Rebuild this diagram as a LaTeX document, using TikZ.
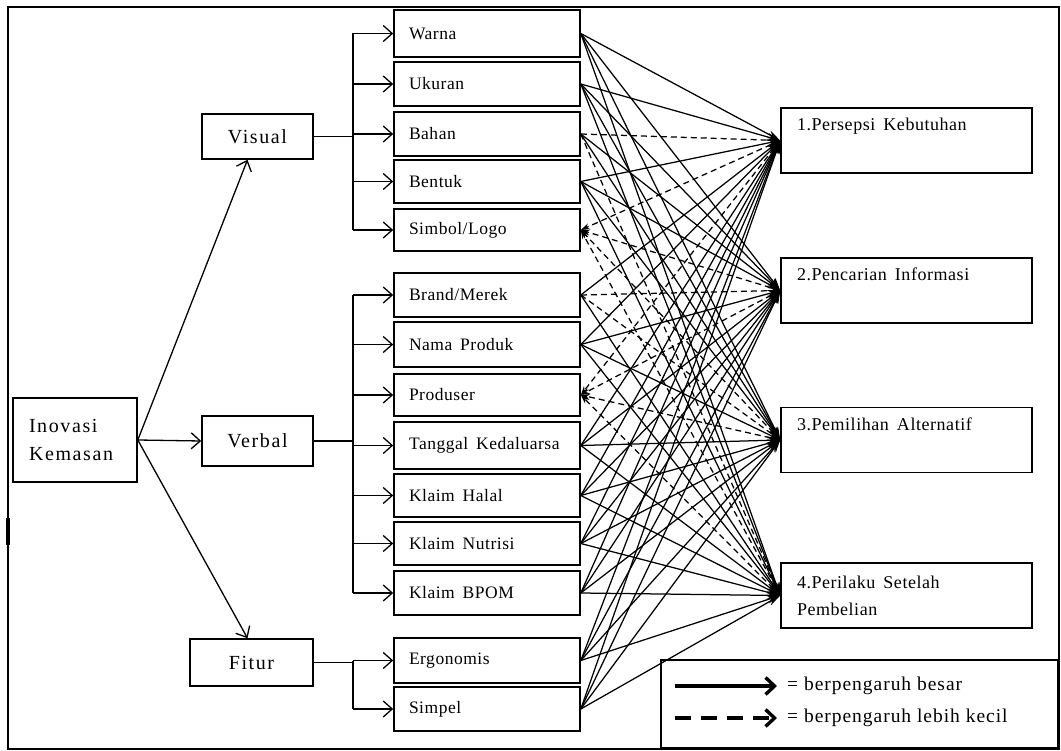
\documentclass[tikz,border=0pt]{standalone}
\usepackage{fontspec}
\setmainfont{Liberation Serif}
\newfontfamily\widefont[LetterSpace=8]{Liberation Serif}
\newfontfamily\midfont[LetterSpace=3]{Liberation Serif}
\newfontfamily\legfont[LetterSpace=5]{Liberation Serif}
\usetikzlibrary{arrows.meta}
\newcommand\wsp{\hspace{0.45em}}
\begin{document}
\begin{tikzpicture}[x=1pt,y=-1pt,
  mbox/.style={draw, line width=1.6pt, text width=156pt, inner xsep=15pt, inner ysep=0pt,
    align=left, minimum height=#1, font={\midfont\fontsize{17.5}{20}\selectfont}},
  rbox/.style={draw, line width=1.6pt, text width=219pt, inner xsep=16pt, inner ysep=0pt,
    align=left, minimum height=65pt, font={\midfont\fontsize{18}{25}\selectfont}},
  lbox/.style={draw, line width=1.6pt, inner sep=0pt, font={\widefont\fontsize{20}{28}\selectfont}},
  tree/.style={line width=1.3pt, -{Straight Barb[length=9pt,width=16pt,line width=1.3pt]}},
  sline/.style={line width=1.25pt, -{Stealth[length=13pt,width=8pt]}},
  dline/.style={line width=1.25pt, dash pattern=on 6pt off 4pt, -{Stealth[length=9pt,width=6pt]}},
  legarrow/.style={line width=3.2pt, -{Straight Barb[length=9pt,width=17pt,line width=3.4pt]}},
  legtext/.style={anchor=west, inner sep=0pt, font={\legfont\fontsize{19.5}{22}\selectfont}}
]
\useasboundingbox (0,0) rectangle (1061,751);
\fill[white] (0,0) rectangle (1061,751);
\draw[line width=2pt] (8,7) rectangle (1059,749);
\draw[line width=3.5pt] (8,518) -- (8,545);

% left tree
\node[lbox, minimum width=124pt, minimum height=84pt, text width=92pt, inner xsep=16pt, align=left] (inov) at (75,440) {Inovasi\\Kemasan};
\node[lbox, minimum width=111pt, minimum height=45pt] (visual) at (257.5,136.5) {Visual};
\node[lbox, minimum width=111pt, minimum height=50pt] (verbal) at (257.5,441) {Verbal};
\node[lbox, minimum width=123pt, minimum height=47pt] (fitur) at (251.5,662.5) {Fitur};

\draw[tree] (inov.east) -- ([xshift=-10pt]visual.south);
\draw[tree] (inov.east) -- (verbal.west);
\draw[tree] (inov.east) -- ([xshift=-4pt]fitur.north);

% middle boxes
\node[mbox=47pt] (warna) at (487,33.5) {Warna};
\node[mbox=44pt] (ukuran) at (487,84) {Ukuran};
\node[mbox=44pt] (bahan) at (487,134) {Bahan};
\node[mbox=43pt] (bentuk) at (487,181.5) {Bentuk};
\node[mbox=42pt] (simbol) at (487,230) {Simbol/Logo};
\node[mbox=44pt] (brand) at (487,295) {Brand/Merek};
\node[mbox=45pt] (nama) at (487,344.5) {Nama\wsp Produk};
\node[mbox=42pt] (produser) at (487,395) {Produser};
\node[mbox=47pt] (tanggal) at (487,445.5) {Tanggal\wsp Kedaluarsa};
\node[mbox=43pt] (halal) at (487,495.5) {Klaim\wsp Halal};
\node[mbox=43pt] (nutrisi) at (487,543.5) {Klaim\wsp Nutrisi};
\node[mbox=44pt] (bpom) at (487,593) {Klaim\wsp BPOM};
\node[mbox=45pt] (ergo) at (487,660.5) {Ergonomis};
\node[mbox=44pt] (simpel) at (487,709) {Simpel};

% brackets
\coordinate (bx) at (353,0);
\draw[line width=1.3pt] (visual.east) -- (visual.east -| bx);
\draw[line width=1.3pt] (bx |- warna.west) -- (bx |- simbol.west);
\foreach \b in {warna,ukuran,bahan,bentuk,simbol}
  \draw[tree] (bx |- \b.west) -- (\b.west);
\draw[line width=1.3pt] (verbal.east) -- (verbal.east -| bx);
\draw[line width=1.3pt] (bx |- brand.west) -- (bx |- bpom.west);
\foreach \b in {brand,nama,produser,tanggal,halal,nutrisi,bpom}
  \draw[tree] (bx |- \b.west) -- (\b.west);
\draw[line width=1.3pt] (fitur.east) -- (fitur.east -| bx);
\draw[line width=1.3pt] (bx |- ergo.west) -- (bx |- simpel.west);
\foreach \b in {ergo,simpel}
  \draw[tree] (bx |- \b.west) -- (\b.west);

% right boxes
\node[rbox] (p1) at (906.5,140.5) {1.Persepsi\wsp Kebutuhan\\ \strut};
\node[rbox] (p2) at (906.5,290.5) {2.Pencarian\wsp Informasi\\ \strut};
\node[rbox] (p3) at (906.5,440) {3.Pemilihan\wsp Alternatif\\ \strut};
\node[rbox, font={\midfont\fontsize{18}{27}\selectfont}] (p4) at (906.5,595.5) {4.Perilaku\wsp Setelah\\Pembelian};

% fan connectors
\foreach \s in {warna,ukuran,bentuk,nama,tanggal,halal,nutrisi,bpom,ergo,simpel}{
  \foreach \t in {p1,p2,p3,p4}{
    \draw[sline] (\s.east) -- (\t.west);
  }
}
\draw[sline] (bahan.east) -- (p2.west);
\draw[sline] (bahan.east) -- (p3.west);
\draw[sline] (brand.east) -- (p1.west);
\draw[sline] (brand.east) -- (p4.west);
\draw[dline] (bahan.east) -- (p1.west);
\draw[dline] (bahan.east) -- (p4.west);
\draw[dline] (brand.east) -- (p2.west);
\draw[dline] (brand.east) -- (p3.west);
\foreach \t in {p1,p2,p3,p4}{
  \draw[dline] (\t.west) -- (simbol.east);
  \draw[dline] (\t.west) -- (produser.east);
}

% legend
\node[draw, line width=1.6pt, minimum width=397pt, minimum height=88pt, inner sep=0pt] (legend) at (859.5,704) {};
\coordinate (la) at (675,686);
\coordinate (lb) at (777,686);
\coordinate (lc) at (675,718);
\coordinate (ld) at (777,718);
\draw[legarrow] (la) -- (lb);
\draw[legarrow, dash pattern=on 16pt off 10pt] (lc) -- (ld);
\node[legtext] (lt1) at (787,686) {= berpengaruh besar};
\node[legtext] (lt2) at (787,718) {= berpengaruh lebih kecil};
\end{tikzpicture}
\end{document}
